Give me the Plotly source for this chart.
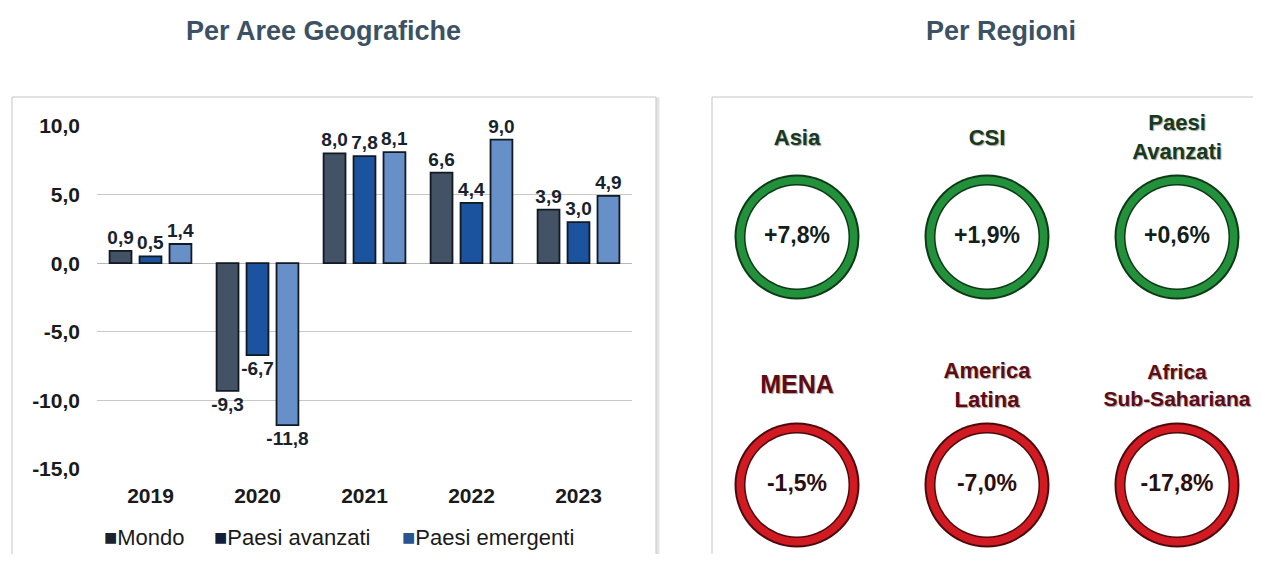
import plotly.graph_objects as go

# reference picture is 1261x562; the page body has an 8px margin,
# so the figure itself is 16px smaller and reference pixels are shifted by 8
PAGE_W, PAGE_H = 1261, 562
OFF = 8
W, H = PAGE_W - 2 * OFF, PAGE_H - 2 * OFF

# ---------------- data ----------------
years = ["2019", "2020", "2021", "2022", "2023"]
mondo = [0.9, -9.3, 8.0, 6.6, 3.9]
avanzati = [0.5, -6.7, 7.8, 4.4, 3.0]
emergenti = [1.4, -11.8, 8.1, 9.0, 4.9]
series_names = ["Mondo", "Paesi avanzati", "Paesi emergenti"]
y_ticks = [-15, -10, -5, 0, 5, 10]

regions = ["Asia", "CSI", "Paesi<br>Avanzati", "MENA", "America<br>Latina", "Africa<br>Sub-Sahariana"]
region_values = [7.8, 1.9, 0.6, -1.5, -7.0, -17.8]
region_col = [0, 1, 2, 0, 1, 2]
region_row = [0, 0, 0, 1, 1, 1]

# ---------------- styles ----------------
FONT = "Liberation Sans, Arial, sans-serif"
bar_colors = ["#435264", "#1c539f", "#6890c8"]
legend_colors = ["#1b222b", "#121e3a", "#2a5390"]


def X(p):
    return (p - OFF) / W


def Y(p):
    return 1 - (p - OFF) / H


def it(v, fmt=".1f"):
    # Italian decimal comma, plain hyphen for negatives
    return format(v, fmt).replace(".", ",")


fig = go.Figure()

for name, vals, col in zip(series_names, [mondo, avanzati, emergenti], bar_colors):
    fig.add_trace(go.Bar(
        x=years, y=vals, name=name,
        marker=dict(color=col, line=dict(color="#111922", width=1.8)),
        text=[it(v) for v in vals], texttemplate="%{text}",
        textposition="outside", constraintext="none", cliponaxis=False,
        textfont=dict(family=FONT, size=19, color="#18222e", weight="bold"),
        xaxis="x", yaxis="y", showlegend=False,
    ))

# ---------------- right panel: rings ----------------
pos = [v >= 0 for v in region_values]
ring_col = ["#23903b" if p else "#d11a22" for p in pos]
edge_col = ["#0c3a16" if p else "#4a0a0c" for p in pos]
val_col = ["#13201a" if p else "#2a0e10" for p in pos]
lab_col = ["#173a1e" if p else "#600b13" for p in pos]
lab_size = [22, 22, 22, 25, 22, 21]

layers = [(125, edge_col), (121, ring_col), (106, edge_col), (103, ["#ffffff"] * 6)]
for size, colors in layers:
    fig.add_trace(go.Scatter(
        x=region_col, y=region_row, mode="markers",
        marker=dict(size=size, color=colors, line=dict(width=0)),
        xaxis="x2", yaxis="y2", showlegend=False, hoverinfo="skip",
    ))

fig.add_trace(go.Scatter(
    x=region_col, y=region_row, mode="text",
    text=[it(v, "+.1f") + "%" for v in region_values],
    textfont=dict(family=FONT, size=23, color=val_col, weight="bold"),
    xaxis="x2", yaxis="y2", showlegend=False, hoverinfo="skip",
))

fig.add_trace(go.Scatter(
    x=region_col, y=[r - 0.395 for r in region_row], mode="text",
    text=regions,
    textfont=dict(family=FONT, size=lab_size, color=lab_col, weight="bold",
                  shadow="1px 1px 1px #a0a0a0"),
    xaxis="x2", yaxis="y2", showlegend=False, hoverinfo="skip",
))

# ---------------- layout ----------------
shapes = []
for x0, x1 in [(12, 656), (712, 1275)]:
    shapes.append(dict(type="rect", xref="paper", yref="paper",
                       x0=X(x0 + 2), x1=X(x1 + 2), y0=Y(600), y1=Y(99),
                       line=dict(color="#e3e3e3", width=3), fillcolor="#f2f2f2", layer="below"))
    shapes.append(dict(type="rect", xref="paper", yref="paper",
                       x0=X(x0), x1=X(x1), y0=Y(600), y1=Y(97),
                       line=dict(color="#c4c4c4", width=1), fillcolor="#ffffff", layer="below"))

annotations = [
    dict(text="<b>Per Aree Geografiche</b>", x=X(323), y=Y(31), xref="paper", yref="paper",
         showarrow=False, font=dict(family=FONT, size=27, color="#3d5165"),
         xanchor="center", yanchor="middle"),
    dict(text="<b>Per Regioni</b>", x=X(1001), y=Y(31), xref="paper", yref="paper",
         showarrow=False, font=dict(family=FONT, size=27, color="#3d5165"),
         xanchor="center", yanchor="middle"),
]

# legend built from text (square glyph + name)
legend_x = [102, 212, 400]
for name, col, lx in zip(series_names, legend_colors, legend_x):
    annotations.append(dict(
        text=f'<span style="color:{col}">■</span>{name}',
        x=X(lx), y=Y(537), xref="paper", yref="paper", showarrow=False,
        xanchor="left", yanchor="middle",
        font=dict(family=FONT, size=22, color="#1a1a1a")))

# right panel axes: 190 px per column, 248 px per row
rx0, rx1 = 712, PAGE_W - OFF
col0_px, col_step = 797, 190
ry_top, ry_bot = 97, PAGE_H - OFF
row0_px, row_step = 237, 248

fig.update_layout(
    width=W, height=H,
    margin=dict(l=0, r=0, t=0, b=0, autoexpand=False),
    paper_bgcolor="#ffffff", plot_bgcolor="rgba(0,0,0,0)",
    separators=",.",
    barmode="group", bargap=0.16, bargroupgap=0.27,
    font=dict(family=FONT, color="#1a1a1a"),
    shapes=shapes, annotations=annotations,
    showlegend=False,
    xaxis=dict(domain=[X(97), X(632)], type="category", automargin=False,
               showgrid=False, showline=False, ticks="", zeroline=False,
               tickfont=dict(family=FONT, size=21, color="#1a1a1a", weight="bold"),
               ticklabelstandoff=12, fixedrange=True),
    yaxis=dict(domain=[Y(469), Y(126)], range=[-15, 10], automargin=False,
               tickvals=y_ticks, ticktext=[it(v) for v in y_ticks],
               showgrid=True, gridcolor="#c8c8c8", gridwidth=1,
               zeroline=True, zerolinecolor="#b8b8b8", zerolinewidth=1,
               showline=False, ticks="",
               tickfont=dict(family=FONT, size=21, color="#1a1a1a", weight="bold"),
               ticklabelstandoff=16, fixedrange=True),
    xaxis2=dict(domain=[X(rx0), X(rx1)], anchor="y2", automargin=False,
                range=[(rx0 - col0_px) / col_step, (rx1 - col0_px) / col_step],
                visible=False, fixedrange=True),
    yaxis2=dict(domain=[Y(ry_bot), Y(ry_top)], anchor="x2", automargin=False,
                range=[(ry_bot - row0_px) / row_step, (ry_top - row0_px) / row_step],
                visible=False, fixedrange=True),
)

fig.write_html("out.html")
